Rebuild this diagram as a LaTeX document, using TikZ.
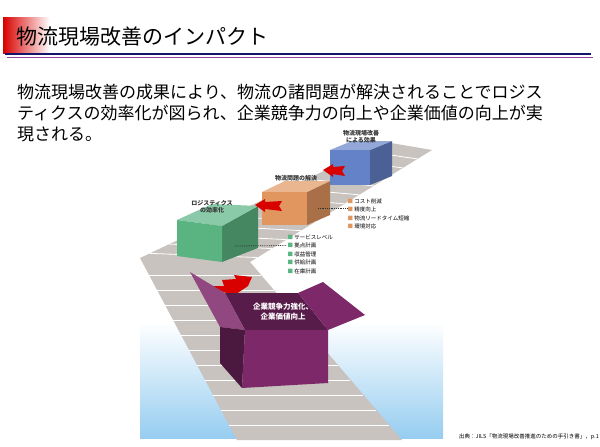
\documentclass[tikz,border=0pt]{standalone}
\usepackage{fontspec}
\setmainfont{Noto Sans CJK JP}
\usetikzlibrary{shadings}
\definecolor{navy}{RGB}{20,20,110}
\definecolor{purp}{RGB}{150,70,160}
\definecolor{gbox}{RGB}{90,180,130}
\definecolor{obox}{RGB}{225,150,95}
\definecolor{bbox}{RGB}{100,130,200}
\definecolor{pbox}{RGB}{125,40,105}
\definecolor{belt}{RGB}{200,195,190}
\definecolor{sky}{RGB}{150,205,240}
\tikzset{
  lbl/.style={font=\fontsize{6}{7}\selectfont\bfseries, align=center, text=black!80},
  item/.style={font=\fontsize{5.5}{6}\selectfont, anchor=west, inner sep=0.5pt},
  redarrow/.style={fill=red!85!black, draw=none},
  dots/.style={densely dotted, thick, black!80}
}
\begin{document}
\begin{tikzpicture}[x=1pt,y=-1pt]
\useasboundingbox (0,0) rectangle (600,447);
\fill[white] (0,0) rectangle (600,447);
% title
\shade[left color=red!85!black, right color=white] (3,17) rectangle (50,53);
\node[anchor=west, font=\fontsize{21}{22}\selectfont, inner sep=0] (title) at (16,37) {物流現場改善のインパクト};
\draw[navy, line width=1.2pt] (5,54) -- (591,54);
\draw[purp, line width=1.6pt] (7,57.5) -- (593,57.5);
% body
\node[anchor=north west, align=left, font=\fontsize{17}{21}\selectfont, inner sep=0] (body) at (17,84)
 {物流現場改善の成果により、物流の諸問題が解決されることでロジス\\ティクスの効率化が図られ、企業競争力の向上や企業価値の向上が実\\現される。};
% sky
\shade[top color=white, bottom color=sky] (140,322) rectangle (443,438);
% belt
\fill[belt] (140,258) -- (385,142) -- (432,150) -- (250,262) -- (402,440) -- (237,440) -- cycle;
\foreach \t in {0.04,0.12,...,0.96}
  \draw[white, line width=0.8pt] ({140+\t*245},{258-\t*116}) -- ({250+\t*182},{262-\t*112});
\foreach \y in {275,290,305,320,335,350,365,380,395,410,425}
  \draw[white, line width=0.8pt] ({140+(\y-258)*0.53},\y) -- ({250+(\y-262)*0.85},\y);
% blue box
\fill[bbox!75!black] (370,150) -- (392,141) -- (392,176) -- (370,185) -- cycle;
\fill[bbox!70!white] (330,150) -- (352,141) -- (392,141) -- (370,150) -- cycle;
\fill[bbox] (330,150) rectangle (370,185);
% orange box
\fill[obox!75!black] (307,192) -- (330,181) -- (330,215) -- (307,225) -- cycle;
\fill[obox!70!white] (262,192) -- (285,181) -- (330,181) -- (307,192) -- cycle;
\fill[obox] (262,192) rectangle (307,225);
% green box
\fill[gbox!75!black] (222,226) -- (258,206) -- (258,248) -- (222,262) -- cycle;
\fill[gbox!70!white] (177,220) -- (212,204) -- (258,206) -- (222,226) -- cycle;
\fill[gbox] (177,220) -- (222,226) -- (222,262) -- (177,256) -- cycle;
% labels
\node[lbl] (lb) at (361,137) {物流現場改善\\による効果};
\node[lbl] (lo) at (296,178) {物流問題の解決};
\node[lbl] (lg) at (212,207) {ロジスティクス\\の効率化};
% red arrows
\fill[redarrow] (323,170) -- (333,164) -- (333,167) -- (345,166) -- (342,171) -- (345,176) -- (333,174) -- (333,177) -- cycle;
\fill[redarrow] (255,205) -- (265,199) -- (265,202) -- (282,201) -- (279,206) -- (282,211) -- (265,209) -- (265,212) -- cycle;
\fill[redarrow] (222,280) -- (236,279) -- (234,275) -- (252,277) -- (248,286) -- (233,296) -- (210,286) -- (224,286) -- cycle;
% lists
\node[item] (o1) at (347,201) {\textcolor{obox}{■} コスト削減};
\node[item] (o2) at (347,209.5) {\textcolor{obox}{■} 精度向上};
\node[item] (o3) at (347,218) {\textcolor{obox}{■} 物流リードタイム短縮};
\node[item] (o4) at (347,226.5) {\textcolor{obox}{■} 環境対応};
\draw[dots] (318,208) -- (o1.south west |- 0,208);
\node[item] (g1) at (287,237) {\textcolor{gbox}{■} サービスレベル};
\node[item] (g2) at (287,245.5) {\textcolor{gbox}{■} 拠点計画};
\node[item] (g3) at (287,254) {\textcolor{gbox}{■} 収益管理};
\node[item] (g4) at (287,262.5) {\textcolor{gbox}{■} 供給計画};
\node[item] (g5) at (287,271) {\textcolor{gbox}{■} 在庫計画};
\draw[dots] (235,246) -- (g2.west);
% purple box
\fill[pbox!70!black] (225,293) -- (298,293) -- (328,330) -- (245,330) -- cycle;
\fill[pbox!85!white] (190,272) -- (225,293) -- (245,330) -- (220,327) -- cycle;
\fill[pbox] (298,293) -- (323,282) -- (365,315) -- (328,330) -- cycle;
\fill[pbox!60!black] (220,327) -- (245,330) -- (242,388) -- (220,363) -- cycle;
\fill[pbox] (245,330) -- (328,330) -- (328,383) -- (242,388) -- cycle;
\node[font=\fontsize{7.5}{10}\selectfont\bfseries, text=white, align=center] (pt) at (283,312) {企業競争力強化、\\企業価値向上};
% source
\node[anchor=south east, font=\fontsize{5.5}{6}\selectfont, inner sep=0] (src) at (599,440) {出典：JILS「物流現場改善推進のための手引き書」，p.1};
\end{tikzpicture}
\end{document}
